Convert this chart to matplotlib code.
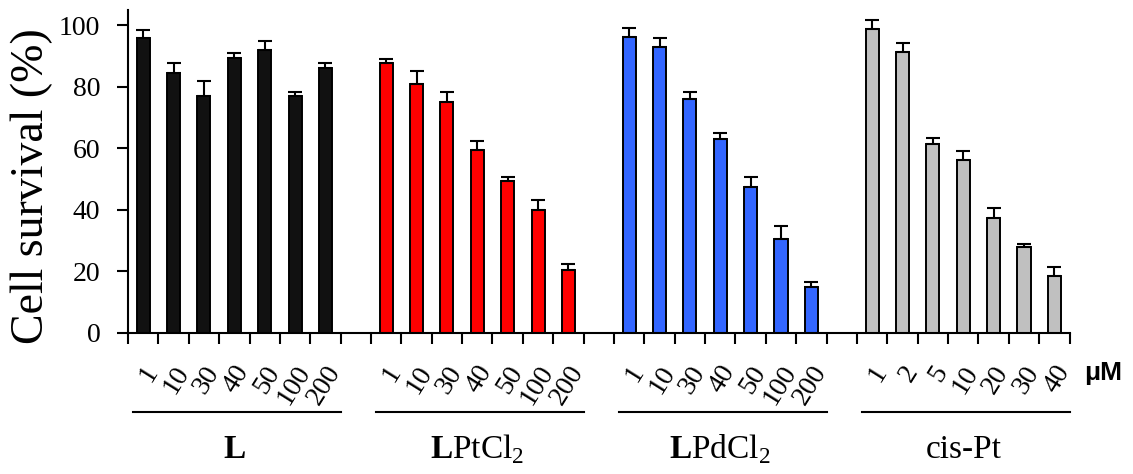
import matplotlib.pyplot as plt
import numpy as np
from matplotlib.transforms import ScaledTranslation

plt.rcParams['font.family'] = ['Liberation Serif', 'DejaVu Serif']
plt.rcParams['mathtext.fontset'] = 'custom'
plt.rcParams['mathtext.rm'] = 'Liberation Serif'
plt.rcParams['mathtext.bf'] = 'Liberation Serif:bold'

groups = ['$\\mathbf{L}$', '$\\mathbf{L}$PtCl$_2$', '$\\mathbf{L}$PdCl$_2$', 'cis-Pt']
colors = ['#111111', '#ff0000', '#3366ff', '#c0c0c0']

doses_L = ['1', '10', '30', '40', '50', '100', '200']
doses_cis = ['1', '2', '5', '10', '20', '30', '40']

surv_L = [96.0, 84.4, 76.9, 89.3, 91.9, 76.9, 86.0]
err_L = [2.4, 3.2, 5.0, 1.6, 3.0, 1.4, 1.6]
surv_LPt = [87.6, 81.0, 75.1, 59.4, 49.5, 40.1, 20.4]
err_LPt = [1.6, 4.0, 3.1, 3.1, 1.2, 3.1, 2.0]
surv_LPd = [96.1, 92.9, 75.9, 62.9, 47.3, 30.7, 15.0]
err_LPd = [3.0, 2.9, 2.3, 2.0, 3.4, 4.2, 1.5]
surv_cis = [98.9, 91.4, 61.5, 56.1, 37.4, 27.8, 18.6]
err_cis = [2.7, 2.8, 1.8, 3.0, 3.3, 1.2, 2.9]

data = [(surv_L, err_L, doses_L), (surv_LPt, err_LPt, doses_L),
        (surv_LPd, err_LPd, doses_L), (surv_cis, err_cis, doses_cis)]

fig = plt.figure(figsize=(11.33, 4.74), dpi=100)
ax = fig.add_axes([0.113, 0.2975, 0.831, 0.6815])

pos_all = []
lab_all = []
for g, (vals, errs, doses) in enumerate(data):
    x = np.arange(len(vals)) + g * 8
    ax.bar(x, vals, width=0.43, color=colors[g], edgecolor='black', linewidth=1.4, zorder=2)
    ax.errorbar(x, vals, yerr=[np.zeros(len(errs)), errs], fmt='none', ecolor='black',
                elinewidth=1.5, capsize=4.7, capthick=1.5, zorder=3)
    pos_all.extend(x)
    lab_all.extend(doses)
    # group underline and name
    ax.plot([x[0] - 0.35, x[-1] + 0.5], [-0.245, -0.245], color='black', lw=1.5,
            transform=ax.get_xaxis_transform(), clip_on=False)
    ax.text(x.mean(), -0.387, groups[g], transform=ax.get_xaxis_transform(),
            ha='center', va='baseline', fontsize=24)

ax.set_xlim(-0.5, 30.5)
ax.set_ylim(0, 105)
ax.set_yticks([0, 20, 40, 60, 80, 100])
ax.set_xticks(pos_all)
ax.set_xticklabels(lab_all, rotation=58, ha='right', va='center', rotation_mode='anchor')
ax.set_xticks(np.arange(-0.5, 31, 1), minor=True)
ax.tick_params(axis='x', which='major', length=0, pad=25, labelsize=20)
ax.tick_params(axis='x', which='minor', length=8, width=1.5, direction='out')
ax.tick_params(axis='y', length=8, width=1.5, direction='out', pad=12, labelsize=20)
offset = ScaledTranslation(7 / 72, 0, fig.dpi_scale_trans)
for lab in ax.get_xticklabels():
    lab.set_transform(lab.get_transform() + offset)

for s in ['top', 'right']:
    ax.spines[s].set_visible(False)
ax.spines['left'].set_linewidth(1.5)
ax.spines['bottom'].set_linewidth(1.5)

ax.set_ylabel('Cell survival (%)', fontsize=33)
ax.yaxis.set_label_coords(-0.08, 0.455)

ax.text(31.6, -0.125, 'μM', transform=ax.get_xaxis_transform(), ha='center', va='center',
        fontsize=19, fontweight='bold', family='Liberation Sans')

fig.savefig('out.png', dpi=100)
